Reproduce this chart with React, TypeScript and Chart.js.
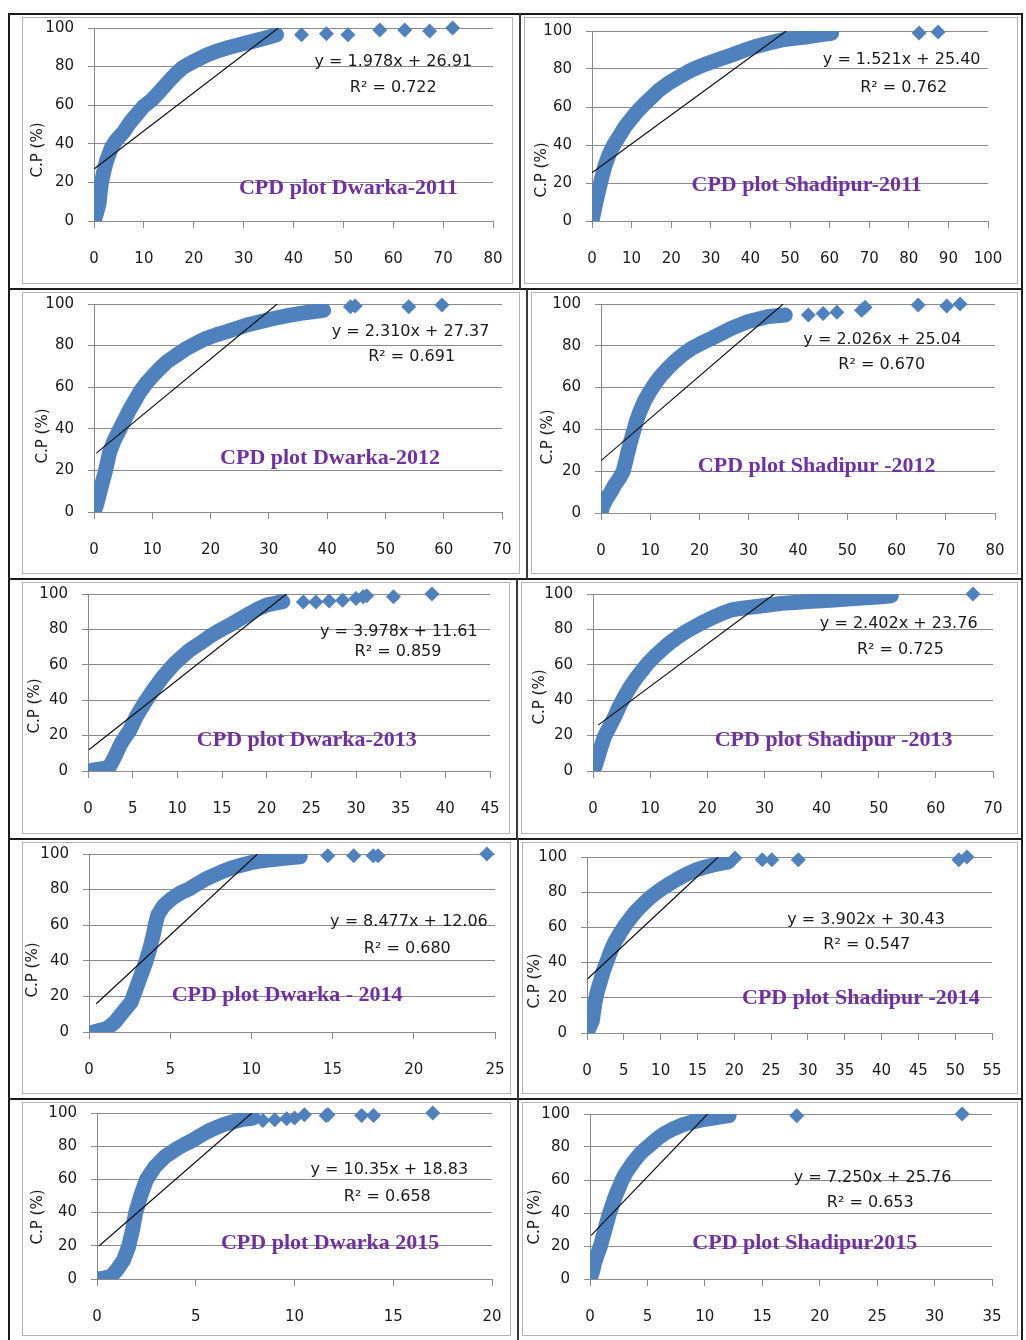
import React, { useEffect, useRef } from "react";
import { Chart, registerables } from "chart.js";

Chart.register(...registerables);

type Pt = [number, number];

// ---------------- DATA ----------------
// Dense part of each cumulative-probability cloud (x, C.P %)
const dwarka2011Band: Pt[] = [[0, 0], [0.5, 4], [1, 9], [1.2, 14], [1.5, 20], [1.9, 25], [2.5, 31], [3.5, 38], [4.5, 42], [5.9, 46], [7.2, 51], [8.5, 55], [10, 59.5], [11.5, 62.5], [12.8, 66], [14, 69.5], [15.2, 73], [16.5, 76.5], [17.8, 79.5], [19.5, 82], [21, 84], [22.6, 86], [24.6, 88], [26.6, 89.6], [28.6, 91], [30.6, 92.3], [32.6, 93.6], [34.6, 95], [36.6, 96.5]];
const dwarka2011Outliers: Pt[] = [[41.6, 96.5], [46.6, 97], [50.9, 96.5], [57.3, 99], [62.3, 99], [67.3, 98.5], [71.9, 100]];

const shadipur2011Band: Pt[] = [[0, 0], [0.5, 5], [1, 10], [1.9, 18], [2.5, 23], [3.2, 28.5], [4.3, 35], [5.7, 40.8], [7, 45], [8.3, 49.5], [10, 54], [11.6, 58], [13.2, 61.5], [15, 65], [17, 69], [19.2, 72.4], [21.7, 75.5], [24.3, 78.6], [26.8, 81], [29.3, 83], [32.2, 85.2], [35.2, 87.3], [38, 89.5], [41.1, 91.7], [44.5, 93.5], [47.9, 95.3], [51, 96.2], [54.6, 97], [57.5, 98], [60.5, 98.8]];
const shadipur2011Outliers: Pt[] = [[82.6, 99], [87.4, 99.5]];

const dwarka2012Band: Pt[] = [[0, 0], [0.5, 4], [1, 9.6], [1.5, 15], [1.9, 19], [2.3, 24], [2.7, 29], [3.4, 34], [4.2, 38.5], [5, 43], [5.9, 48], [6.9, 53], [7.9, 57.8], [9, 62], [10.2, 65.8], [11.3, 69], [12.5, 72.2], [14.2, 75.5], [15.9, 78.7], [17.6, 81.2], [19.3, 83.5], [21, 85.2], [22.8, 86.7], [24.5, 88.3], [26.2, 89.9], [28.5, 91.5], [30.8, 93], [33, 94.3], [35.4, 95.5], [37.5, 96.3], [39.4, 97]];
const dwarka2012Outliers: Pt[] = [[44, 98.7], [44.8, 99], [54, 98.7], [59.7, 99.5]];

const shadipur2012Band: Pt[] = [[0, 0], [0.3, 3], [1.2, 7.2], [2, 10], [2.8, 13.5], [3.7, 16.5], [4.5, 19.9], [5, 24.5], [5.5, 29.5], [6, 34], [6.6, 39], [7.2, 44], [7.9, 48.6], [8.8, 53.5], [9.9, 58], [11, 62], [12.3, 66], [13.6, 69.3], [15, 72.5], [16.6, 75.8], [18.4, 78.8], [20.4, 81.3], [22.5, 83.6], [24.5, 86], [26.5, 88.4], [28.2, 90], [29.9, 91.6], [32, 92.8], [34, 94], [37.4, 94.7]];
const shadipur2012Outliers: Pt[] = [[42.1, 94.7], [45.1, 95.5], [47.9, 96], [52.9, 97], [53.6, 98.5], [64.4, 99.5], [70.2, 99], [72.9, 100]];

const dwarka2013Band: Pt[] = [[0, 0], [0.6, 0.5], [1.2, 1], [1.8, 1.5], [2.4, 2.4], [3, 8.1], [3.7, 15.6], [4.2, 19.5], [4.7, 23.2], [5.4, 30.7], [6.3, 38.2], [7.3, 45.8], [8.4, 53.3], [9.7, 60.8], [11.4, 68.4], [12.5, 72], [13.6, 75.9], [14.7, 79.3], [15.9, 82.5], [17, 85.8], [18.1, 89], [19, 91.5], [20, 93.8], [21.8, 95.7]];
const dwarka2013Outliers: Pt[] = [[24.1, 95.5], [25.5, 95.5], [27, 96], [28.5, 96.5], [30, 97.5], [30.8, 98.5], [31.2, 99], [34.2, 98.5], [38.5, 100]];

const shadipur2013Band: Pt[] = [[0, 0], [0.4, 3], [0.9, 8.1], [1.4, 13.5], [2, 19.4], [2.9, 25], [3.8, 30.7], [4.6, 36.5], [5.5, 42], [6.4, 47], [7.3, 51.4], [8.4, 56], [9.6, 60.8], [10.8, 64.8], [12, 68.4], [13.4, 72.3], [14.9, 75.9], [16.3, 78.8], [17.8, 81.5], [19.5, 84.5], [21.3, 87.2], [22.8, 89.3], [24.2, 91], [26.2, 92], [28.3, 92.8], [30.6, 93.8], [33, 94.7], [35.3, 95.2], [37.6, 95.7], [40, 96.2], [42.3, 96.6], [44.4, 97.1], [46.4, 97.6], [48.5, 98], [50.5, 98.5], [52.2, 99]];
const shadipur2013Outliers: Pt[] = [[66.5, 100]];

const dwarka2014Band: Pt[] = [[0.3, 0], [0.7, 1], [1.1, 1.9], [1.6, 5.6], [2.1, 11.3], [2.6, 16.9], [2.9, 24.4], [3.2, 31.9], [3.5, 39.4], [3.75, 46.9], [3.95, 54.4], [4.1, 61], [4.25, 66], [4.6, 71], [5.1, 75], [5.6, 78], [6.2, 80.5], [6.7, 83.3], [7.2, 86], [7.8, 88.5], [8.3, 90.5], [8.8, 92.2], [9.3, 93.5], [9.9, 95], [10.5, 96], [11.2, 96.8], [12, 97.6], [13, 98.5]];
const dwarka2014Outliers: Pt[] = [[14.7, 99], [16.3, 99], [17.5, 99], [17.8, 99], [24.5, 100]];

const shadipur2014Band: Pt[] = [[0, 0], [0.3, 3], [0.7, 6.6], [0.9, 12], [1.1, 17.9], [1.4, 23.5], [1.8, 29.2], [2.2, 35], [2.7, 40.6], [3.2, 46.3], [3.8, 51.9], [4.5, 56.8], [5.2, 61.3], [5.9, 65.2], [6.6, 68.9], [7.5, 72.7], [8.4, 76.4], [9.3, 79.3], [10.2, 82.1], [11.3, 85], [12.4, 87.7], [13.5, 90.2], [14.7, 92.5], [15.8, 94], [17, 95.3], [18.1, 96.3], [19.2, 97.2]];
const shadipur2014Outliers: Pt[] = [[20.1, 99.5], [23.8, 98.5], [25.1, 98.5], [28.7, 98.5], [50.5, 98.5], [51.6, 100]];

const dwarka2015Band: Pt[] = [[0, 0], [0.35, 0.5], [0.7, 1.4], [1, 5.4], [1.35, 11.5], [1.6, 19.5], [1.8, 29.6], [1.95, 39.6], [2.2, 49.7], [2.5, 59.8], [2.95, 67.8], [3.45, 73.8], [4.1, 78.9], [4.5, 81.5], [4.9, 83.9], [5.25, 86.5], [5.6, 88.9], [6, 91], [6.4, 93], [6.85, 94.6], [7.3, 96], [7.9, 97]];
const dwarka2015Outliers: Pt[] = [[8.4, 95.5], [9, 96], [9.6, 96.5], [10, 97], [10.5, 99], [11.6, 98.5], [11.7, 99], [13.4, 98.5], [14, 98.5], [17, 100]];

const shadipur2015Band: Pt[] = [[0, 0], [0.2, 4], [0.4, 9.7], [0.65, 15], [0.9, 19.8], [1.1, 25], [1.3, 29.8], [1.5, 35], [1.7, 39.9], [1.95, 45], [2.2, 50], [2.5, 55], [2.8, 60.1], [3.1, 64], [3.5, 68.1], [3.9, 72], [4.4, 76.2], [4.9, 79.3], [5.4, 82.3], [5.9, 85.3], [6.5, 88.3], [7.2, 90.8], [8, 93.3], [8.8, 94.9], [9.7, 96.4], [10.6, 97.4], [11.5, 98.4], [12.1, 99]];
const shadipur2015Outliers: Pt[] = [[18, 99], [32.4, 100]];

const panelTitles = [
  "CPD plot Dwarka-2011", "CPD plot Shadipur-2011",
  "CPD plot Dwarka-2012", "CPD plot Shadipur -2012",
  "CPD plot Dwarka-2013", "CPD plot Shadipur -2013",
  "CPD plot Dwarka - 2014", "CPD plot Shadipur -2014",
  "CPD plot Dwarka 2015", "CPD plot Shadipur2015",
];
const equationLabels = [
  "y = 1.978x + 26.91", "y = 1.521x + 25.40",
  "y = 2.310x + 27.37", "y = 2.026x + 25.04",
  "y = 3.978x + 11.61", "y = 2.402x + 23.76",
  "y = 8.477x + 12.06", "y = 3.902x + 30.43",
  "y = 10.35x + 18.83", "y = 7.250x + 25.76",
];
const r2Labels = [
  "R² = 0.722", "R² = 0.762", "R² = 0.691", "R² = 0.670", "R² = 0.859",
  "R² = 0.725", "R² = 0.680", "R² = 0.547", "R² = 0.658", "R² = 0.653",
];
const trendSlopes = [1.978, 1.521, 2.31, 2.026, 3.978, 2.402, 8.477, 3.902, 10.35, 7.25];
const trendIntercepts = [26.91, 25.4, 27.37, 25.04, 11.61, 23.76, 12.06, 30.43, 18.83, 25.76];
const trendStartX = [0, 0, 0.4, 0, 0.1, 0.9, 0.45, 0.1, 0.1, 0.1];
const xAxisMax = [80, 100, 70, 80, 45, 70, 25, 55, 20, 35];
const xAxisStep = [10, 10, 10, 10, 5, 10, 5, 5, 5, 5];
const yAxisMax = 100;
const yAxisStep = 20;
const yAxisLabel = "C.P (%)";

const bands: Pt[][] = [dwarka2011Band, shadipur2011Band, dwarka2012Band, shadipur2012Band, dwarka2013Band, shadipur2013Band, dwarka2014Band, shadipur2014Band, dwarka2015Band, shadipur2015Band];
const outliers: Pt[][] = [dwarka2011Outliers, shadipur2011Outliers, dwarka2012Outliers, shadipur2012Outliers, dwarka2013Outliers, shadipur2013Outliers, dwarka2014Outliers, shadipur2014Outliers, dwarka2015Outliers, shadipur2015Outliers];

// ---------------- LAYOUT (page pixels / text anchors) ----------------
type Layout = {
  cell: [number, number, number, number]; // x0, y0, x1, y1 of the framed cell
  plot: [number, number, number, number]; // left, top, right, bottom of plot area
  eq: [number, number]; // data coords
  r2: [number, number];
  title: [number, number];
  yLab: [number, number]; // page px centre
};
const layouts: Layout[] = [
  { cell: [10, 16, 519, 288], plot: [94, 28, 493, 221], eq: [60, 82.7], r2: [60, 69], title: [51, 17], yLab: [38, 150] },
  { cell: [522, 16, 1020, 288], plot: [592, 31, 988, 221], eq: [78.2, 84.7], r2: [78.7, 70.3], title: [54.2, 18.8], yLab: [542, 170] },
  { cell: [10, 291, 526, 578], plot: [94, 304, 502, 512], eq: [54.3, 86.7], r2: [54.5, 74.6], title: [40.5, 25.7], yLab: [43, 436] },
  { cell: [529, 291, 1020, 578], plot: [601, 304, 995, 513], eq: [57.1, 82.8], r2: [57, 70.9], title: [43.8, 22.3], yLab: [548, 437] },
  { cell: [10, 581, 516, 838], plot: [88, 594, 490, 771], eq: [34.8, 78.7], r2: [34.7, 67.4], title: [24.5, 17.5], yLab: [35, 706] },
  { cell: [519, 581, 1020, 838], plot: [593, 594, 993, 771], eq: [53.5, 83.4], r2: [53.8, 68.4], title: [42.1, 17.5], yLab: [540, 697] },
  { cell: [10, 841, 517, 1098], plot: [89, 854, 495, 1032], eq: [19.7, 61.9], r2: [19.6, 46.9], title: [12.2, 20.6], yLab: [33, 970] },
  { cell: [520, 841, 1020, 1098], plot: [587, 857, 992, 1033], eq: [37.9, 64.2], r2: [38, 50], title: [37.2, 19.8], yLab: [535, 981] },
  { cell: [10, 1101, 517, 1340], plot: [97, 1113, 492, 1279], eq: [14.8, 65.8], r2: [14.7, 49.7], title: [11.8, 21.5], yLab: [38, 1217] },
  { cell: [520, 1101, 1020, 1340], plot: [590, 1114, 992, 1279], eq: [24.6, 61.1], r2: [24.4, 46], title: [18.7, 21.8], yLab: [535, 1217] },
];

const BLUE = "#4F81BD";
const GRID = "#8a8a8a";
const TEXT = "#1a1a1a";
const Y_AXIS_W = 50;
const X_AXIS_H = 44;
const TOP_ROOM = 26;
const RIGHT_ROOM = 45;

function Panel({ i }: { i: number }) {
  const ref = useRef<HTMLCanvasElement | null>(null);
  const L = layouts[i];
  const [x0, , , y1] = L.cell;
  const [pl, pt, pr, pb] = L.plot;
  const cy0 = pt - TOP_ROOM;
  const cx1 = pr + RIGHT_ROOM;
  const w = cx1 - x0;
  const h = y1 - cy0;

  useEffect(() => {
    if (!ref.current) return;
    const m = trendSlopes[i];
    const b = trendIntercepts[i];
    const xs = trendStartX[i];
    const xe = (yAxisMax - b) / m;
    const trend = [
      { x: xs, y: m * xs + b },
      { x: xe, y: m * xe + b },
    ];
    const textPlugin = {
      id: "panelText" + i,
      afterDraw(chart: any) {
        const { ctx, scales } = chart;
        const sx = scales.x;
        const sy = scales.y;
        ctx.save();
        ctx.textAlign = "center";
        ctx.textBaseline = "middle";
        ctx.fillStyle = TEXT;
        ctx.font = '16px "DejaVu Sans"';
        ctx.fillText(equationLabels[i], sx.getPixelForValue(L.eq[0]), sy.getPixelForValue(L.eq[1]));
        ctx.fillText(r2Labels[i], sx.getPixelForValue(L.r2[0]), sy.getPixelForValue(L.r2[1]));
        ctx.fillStyle = "#7030A0";
        ctx.font = 'bold 22px "Liberation Serif"';
        ctx.fillText(panelTitles[i], sx.getPixelForValue(L.title[0]), sy.getPixelForValue(L.title[1]));
        ctx.fillStyle = TEXT;
        ctx.font = '15px "DejaVu Sans"';
        ctx.translate(L.yLab[0] - x0, L.yLab[1] - cy0);
        ctx.rotate(-Math.PI / 2);
        ctx.fillText(yAxisLabel, 0, 0);
        ctx.restore();
      },
    };
    const tickFont = { family: "DejaVu Sans", size: 15 };
    const chart = new Chart(ref.current, {
      type: "scatter",
      data: {
        datasets: [
          {
            data: trend,
            showLine: true,
            borderColor: "#111",
            borderWidth: 1.2,
            pointRadius: 0,
            fill: false,
          },
          {
            data: bands[i].map(([x, y]) => ({ x, y })),
            showLine: true,
            borderColor: BLUE,
            borderWidth: 15,
            borderJoinStyle: "round",
            borderCapStyle: "round",
            backgroundColor: BLUE,
            pointStyle: "rectRot",
            pointRadius: 7.5,
            pointBorderWidth: 0,
            pointBorderColor: BLUE,
            pointBackgroundColor: BLUE,
          },
          {
            data: outliers[i].map(([x, y]) => ({ x, y })),
            showLine: false,
            pointStyle: "rectRot",
            pointRadius: 7.5,
            pointBorderWidth: 0,
            pointBackgroundColor: BLUE,
            pointBorderColor: BLUE,
            backgroundColor: BLUE,
            clip: false,
          },
        ],
      } as any,
      options: {
        responsive: false,
        maintainAspectRatio: false,
        animation: false,
        devicePixelRatio: 1,
        layout: {
          padding: {
            left: pl - x0 - Y_AXIS_W,
            top: TOP_ROOM,
            right: RIGHT_ROOM,
            bottom: y1 - pb - X_AXIS_H,
          },
        },
        plugins: {
          legend: { display: false },
          tooltip: { enabled: false },
          title: { display: false },
        },
        scales: {
          x: {
            type: "linear",
            min: 0,
            max: xAxisMax[i],
            ticks: {
              stepSize: xAxisStep[i],
              autoSkip: false,
              maxRotation: 0,
              font: tickFont,
              color: TEXT,
              padding: 22,
            },
            grid: {
              drawOnChartArea: false,
              drawTicks: true,
              tickLength: 7,
              color: GRID,
            },
            border: { display: true, color: GRID, width: 1 },
            afterFit(s: any) {
              s.height = X_AXIS_H;
            },
          },
          y: {
            type: "linear",
            min: 0,
            max: yAxisMax,
            ticks: {
              stepSize: yAxisStep,
              font: tickFont,
              color: TEXT,
              padding: 14,
            },
            grid: {
              drawOnChartArea: true,
              drawTicks: true,
              tickLength: 6,
              color: GRID,
            },
            border: { display: true, color: GRID, width: 1 },
            afterFit(s: any) {
              s.width = Y_AXIS_W;
            },
          },
        },
      } as any,
      plugins: [textPlugin],
    });
    return () => chart.destroy();
  }, [i]);

  return (
    <canvas
      ref={ref}
      width={w}
      height={h}
      style={{ position: "absolute", left: x0, top: cy0, width: w, height: h }}
    />
  );
}

const hLines = [14, 289, 579, 839, 1099];
const midLines: [number, number, number][] = [
  [520, 14, 289],
  [527, 289, 579],
  [517, 579, 839],
  [518, 839, 1099],
  [518, 1099, 1340],
];

export default function App() {
  const frameColor = "#1c1c1c";
  return (
    <div
      style={{
        position: "absolute",
        left: 0,
        top: 0,
        width: 1026,
        height: 1340,
        background: "#fff",
        overflow: "hidden",
      }}
    >
      {layouts.map((L, k) => {
        const [x0, y0, x1, y1] = L.cell;
        const left = k % 2 === 0;
        const gl = left ? 22 : x0 + 2;
        const gr = left ? x1 - 6 : 1018;
        return (
          <div
            key={"g" + k}
            style={{
              position: "absolute",
              left: gl,
              top: y0 + 1,
              width: gr - gl,
              height: y1 - y0 - 5,
              border: "1px solid #b4b4b4",
              boxSizing: "border-box",
            }}
          />
        );
      })}
      {hLines.map((y, k) => (
        <div key={"h" + k} style={{ position: "absolute", left: 8, top: y - 1, width: 1015, height: 2, background: frameColor }} />
      ))}
      <div style={{ position: "absolute", left: 8, top: 13, width: 2, height: 1327, background: frameColor }} />
      <div style={{ position: "absolute", left: 1021, top: 13, width: 2, height: 1327, background: frameColor }} />
      {midLines.map(([x, a, b], k) => (
        <div key={"m" + k} style={{ position: "absolute", left: x - 1, top: a, width: 2, height: b - a, background: "#3a3a3a" }} />
      ))}
      {layouts.map((_, k) => (
        <Panel key={k} i={k} />
      ))}
    </div>
  );
}
